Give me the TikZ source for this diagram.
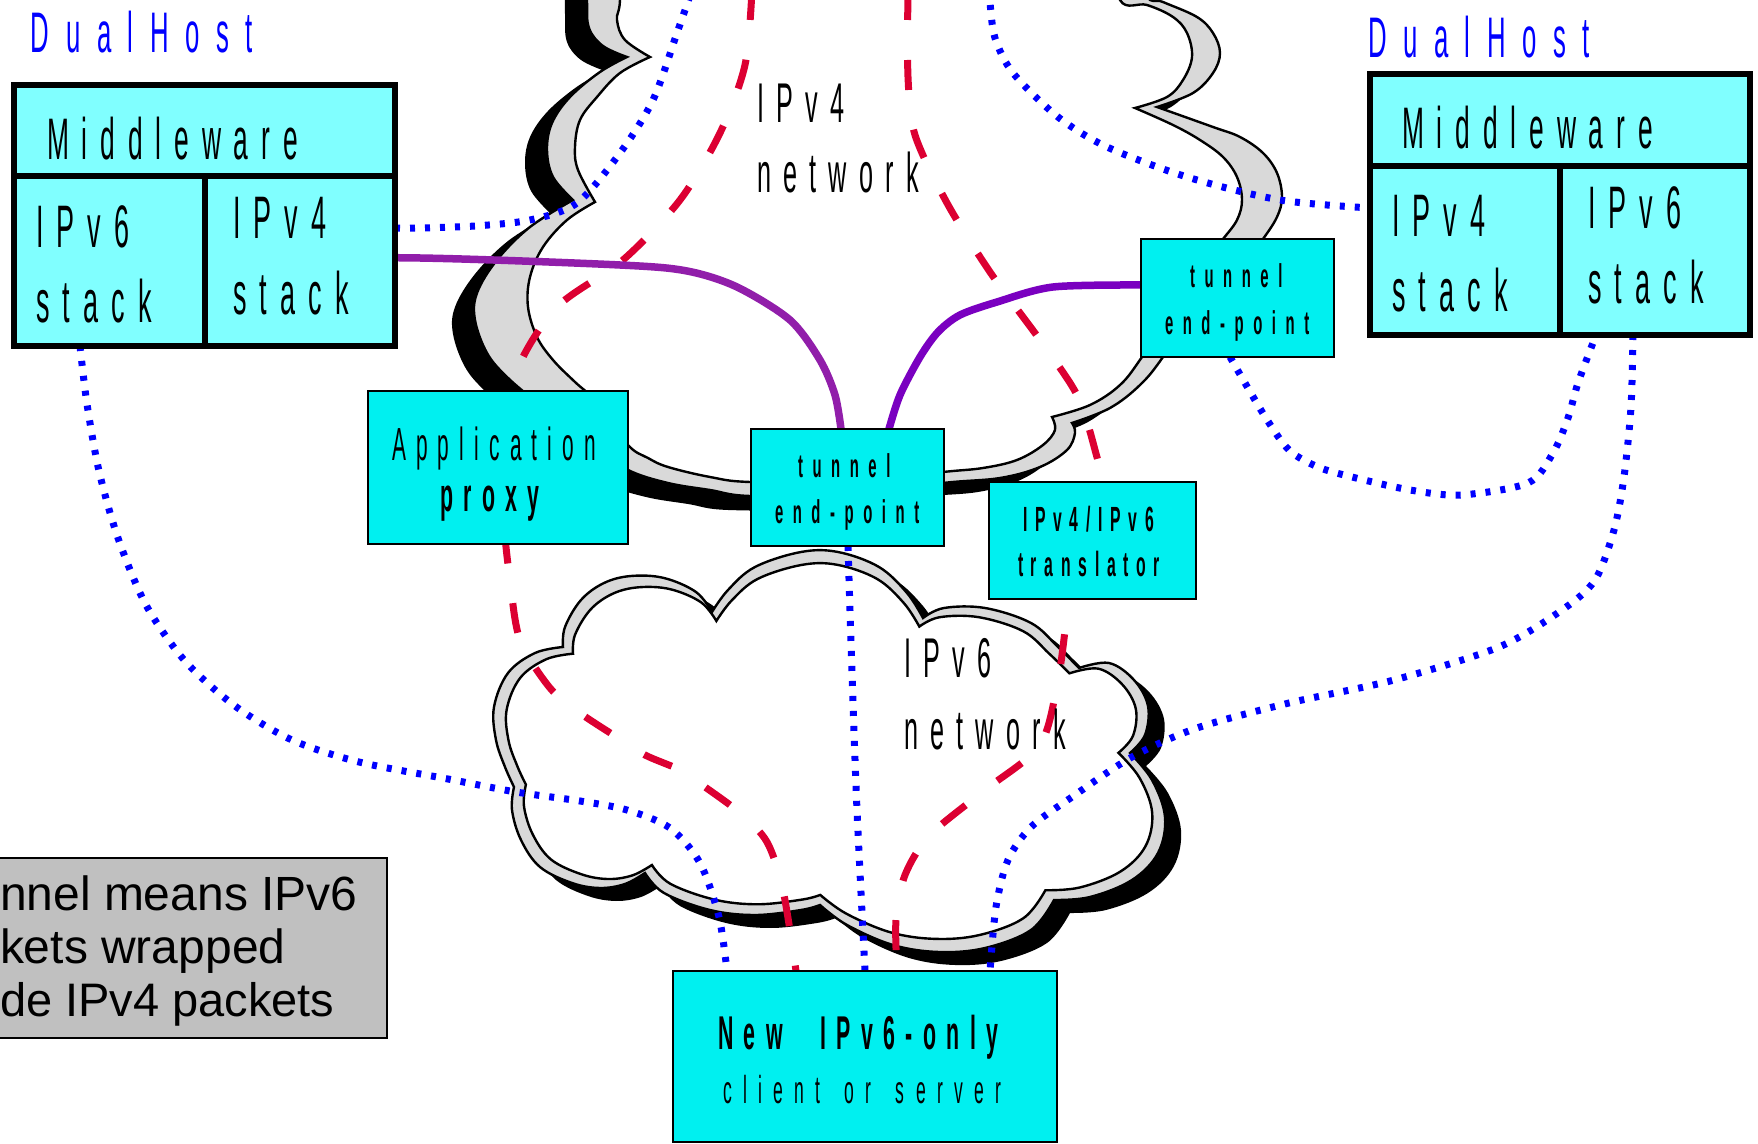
\documentclass[tikz,border=0pt]{standalone}
\usepackage{fontspec}
\setmainfont{Liberation Sans}
\newfontfamily\nf{Liberation Sans}[FakeStretch=0.45,LetterSpace=22,WordSpace=2.3]
\newfontfamily\nfw{Liberation Sans}[FakeStretch=0.45,LetterSpace=29,WordSpace=1.5]
\usetikzlibrary{calc}
\pgfdeclarelayer{cloudl}
\pgfdeclarelayer{linel}
\pgfsetlayers{cloudl,linel,main}
\definecolor{boxc}{RGB}{0,240,240}
\definecolor{dhc}{RGB}{128,255,255}
\definecolor{cgray}{RGB}{217,217,217}
\definecolor{lgray}{RGB}{192,192,192}
\definecolor{rd}{RGB}{220,0,50}
\definecolor{bl}{RGB}{0,0,255}
\definecolor{puA}{RGB}{145,30,170}
\definecolor{puB}{RGB}{122,0,192}
\newcommand\fsz[1]{\fontsize{#1}{#1}\selectfont}
\newcommand\cloudFourOut[1]{%
\path[#1] plot[smooth,tension=0.6] coordinates {(587,-60) (587,0) (589,28) (603,46) (627,57)}
 -- plot[smooth,tension=0.6] coordinates {(627,57) (600,72) (570,97) (552,123) (547,150) (553,177) (573,200)}
 -- plot[smooth,tension=0.6] coordinates {(573,200) (530,227) (497,260) (477,293) (475,320) (487,353) (507,377) (540,405) (590,445) (628,470) (668,483) (710,490) (750,496) (850,495) (943,483) (1000,478) (1040,467) (1067,450) (1075,433) (1072,423)}
 -- plot[smooth,tension=0.6] coordinates {(1072,423) (1110,408) (1140,385) (1163,357) (1200,300) (1250,255) (1263,239) (1277,217) (1282,197) (1277,173) (1263,153) (1240,137) (1213,127) (1157,107)}
 -- plot[smooth,tension=0.6] coordinates {(1157,107) (1193,93) (1213,73) (1220,53) (1213,33) (1197,17) (1163,2) (1147,-5) (1140,-60)}
 -- cycle;}
\newcommand\cloudFourIn[1]{%
\path[#1] plot[smooth,tension=0.6] coordinates {(620,-60) (620,0) (617,20) (625,40) (650,57)}
 -- plot[smooth,tension=0.6] coordinates {(650,57) (620,73) (597,97) (580,120) (575,147) (578,170) (595,202)}
 -- plot[smooth,tension=0.6] coordinates {(595,202) (567,220) (543,247) (530,277) (528,307) (537,337) (553,360) (575,382) (600,405) (628,445) (648,458) (668,467) (710,477) (750,482) (850,482) (943,472) (983,468) (1017,460) (1043,445) (1055,430) (1052,417)}
 -- plot[smooth,tension=0.6] coordinates {(1052,417) (1090,405) (1120,385) (1142,357) (1180,300) (1210,255) (1223,239) (1237,220) (1242,200) (1237,177) (1223,157) (1200,140) (1173,125) (1135,108)}
 -- plot[smooth,tension=0.6] coordinates {(1135,108) (1167,97) (1183,80) (1192,57) (1187,33) (1173,17) (1147,5) (1120,0) (1110,-60)}
 -- cycle;}
\newcommand\cloudSix[1]{%
\path[#1] plot[smooth,tension=0.6] coordinates {(712,612) (696,592) (664,578) (631,576) (604,583) (581,600) (565,627) (563,647)}
 -- plot[smooth,tension=0.6] coordinates {(563,647) (535,653) (508,673) (494,707) (496,740) (505,767) (514,787)}
 -- plot[smooth,tension=0.6] coordinates {(514,787) (512,810) (521,840) (540,867) (572,883) (600,888) (625,884) (645,873)}
 -- plot[smooth,tension=0.6] coordinates {(645,873) (664,893) (710,910) (755,915) (801,910) (820,905)}
 -- plot[smooth,tension=0.6] coordinates {(820,905) (847,925) (893,945) (939,952) (985,948) (1031,930) (1054,900)}
 -- plot[smooth,tension=0.6] coordinates {(1054,900) (1090,897) (1132,880) (1158,853) (1165,817) (1152,780) (1130,753)}
 -- plot[smooth,tension=0.6] coordinates {(1130,753) (1145,735) (1148,706) (1134,680) (1109,663) (1079,668)}
 -- plot[smooth,tension=0.6] coordinates {(1079,668) (1058,647) (1031,623) (985,608) (944,608) (923,618)}
 -- plot[smooth,tension=0.6] coordinates {(923,618) (907,593) (879,567) (838,552) (801,552) (755,567) (728,590) (712,612)}
 -- cycle;}
\begin{document}
\begin{tikzpicture}[x=0.5pt,y=-0.5pt,
  box/.style={draw=black,line width=1pt,fill=boxc,inner sep=0,outer sep=0},
  dhcell/.style={draw=black,line width=3pt,fill=dhc,inner sep=0,outer sep=0},
  lbl/.style={inner sep=0,outer sep=0,anchor=base west},
  tx/.style={lbl,font=\nf\fsz{#1}},
  txb/.style={lbl,font=\nf\bfseries\fsz{#1}},
  txw/.style={lbl,font=\nfw\fsz{#1}},
  txwb/.style={lbl,font=\nfw\bfseries\fsz{#1}},
  rdash/.style={draw=rd,line width=3.5pt,dash pattern=on 15pt off 20pt},
  bdot/.style={draw=bl,line width=3.5pt,dash pattern=on 2.5pt off 5pt},
  pline/.style={line width=3.75pt,line join=round}]
\useasboundingbox (0,0) rectangle (1758,1144);
% ---------- boxes ----------
\node[dhcell,minimum width=190.5pt,minimum height=45.5pt] (mwL) at (204.5,130.5) {};
\node[dhcell,minimum width=95.5pt,minimum height=85pt] (v6L) at (109.5,261) {};
\node[dhcell,minimum width=95pt,minimum height=85pt] (v4L) at (300,261) {};
\node[dhcell,minimum width=190pt,minimum height=46.25pt] (mwR) at (1560,120.25) {};
\node[dhcell,minimum width=95pt,minimum height=84.25pt] (v4R) at (1465,250.75) {};
\node[dhcell,minimum width=95pt,minimum height=84.25pt] (v6R) at (1655,250.75) {};
\node[box,minimum width=130pt,minimum height=76.5pt] (app) at (498,467.5) {};
\node[box,minimum width=96.5pt,minimum height=58.5pt] (tunC) at (847.5,487.5) {};
\node[box,minimum width=96.5pt,minimum height=59pt] (tunR) at (1237.5,298) {};
\node[box,minimum width=103.5pt,minimum height=58.5pt] (trB) at (1092.5,540.5) {};
\node[box,minimum width=192pt,minimum height=85.5pt] (newB) at (865,1056.5) {};
\node[draw=black,line width=0.75pt,fill=lgray,inner sep=0,outer sep=0,minimum width=196pt,minimum height=90pt] (legend) at (191,948) {};
% ---------- texts ----------
\node[txw=28.6,text=bl] (tDhL) at (31,53) {DualHost};
\node[txw=28.6,text=bl] (tDhR) at (1368,58) {DualHost};
\node[tx=29.3] (tMwL) at (47,160) {Middleware};
\node[tx=30] (tV6La) at (36,248) {IPv6};
\node[tx=30] (tV6Lb) at (36,323) {stack};
\node[tx=30] (tV4La) at (233,239) {IPv4};
\node[tx=30] (tV4Lb) at (233,315) {stack};
\node[tx=29.3] (tMwR) at (1402,149) {Middleware};
\node[tx=30] (tV4Ra) at (1392,237) {IPv4};
\node[tx=30] (tV4Rb) at (1392,312) {stack};
\node[tx=30] (tV6Ra) at (1588,229) {IPv6};
\node[tx=30] (tV6Rb) at (1588,304) {stack};
\node[tx=28] (tNetFa) at (757,123) {IPv4};
\node[tx=28] (tNetFb) at (757,193) {network};
\node[tx=28] (tNetSa) at (904,678) {IPv6};
\node[tx=28] (tNetSb) at (904,749) {network};
\node[tx=23.2] (tAppa) at (392,461) {Application};
\node[txb=23.7] (tAppb) at (440,512) {proxy};
\node[txwb=16.5] (tTunCa) at (798,478) {tunnel};
\node[txwb=16.5] (tTunCb) at (775,524) {end-point};
\node[txwb=16.5] (tTunRa) at (1190,288) {tunnel};
\node[txwb=16.5] (tTunRb) at (1165,335) {end-point};
\node[txb=17.5] (tTra) at (1023,532) {IPv4/IPv6};
\node[txb=17.5] (tTrb) at (1018,577) {translator};
\node[txb=23.7] (tNewa) at (718,1049) {New IPv6-only};
\node[txw=19.5] (tNewb) at (723,1103) {client or server};
\node[lbl,font=\fsz{24}] (tLga) at (0,910) {nnel means IPv6};
\node[lbl,font=\fsz{24}] (tLgb) at (0,963) {kets wrapped};
\node[lbl,font=\fsz{23.5}] (tLgc) at (0,1016) {de IPv4 packets};
% free ends at the top edge
\coordinate (topA) at (752,-10);
\coordinate (topB) at (908,-10);
\coordinate (topC) at (692,-10);
\coordinate (topD) at (989,-10);
% ---------- clouds ----------
\begin{pgfonlayer}{cloudl}
\clip (0,0) rectangle (1758,1144);
\fill[white] (0,0) rectangle (1758,1144);
\cloudFourOut{fill=black,shift={(-22,14)}}
\cloudFourOut{fill=cgray,draw=black,line width=1.2pt}
\cloudFourIn{fill=white,draw=black,line width=1.2pt}
\cloudSix{fill=black,shift={(16,13)}}
\cloudSix{fill=cgray,draw=black,line width=1.2pt}
\cloudSix{fill=white,draw=black,line width=1.2pt,shift={(827,750)},xscale=0.962,yscale=0.935,shift={(-827,-750)}}
\end{pgfonlayer}
% ---------- connectors ----------
\begin{pgfonlayer}{linel}
\clip (0,0) rectangle (1758,1144);
\draw[bdot] plot[smooth] coordinates {([yshift=16.5pt]v4L.east) (420,228) (475,226) (530,220) (577,203) (620,153) (653,100) (677,33) (topC)};
\draw[bdot] plot[smooth] coordinates {(topD) (990,3) (995,38) (1013,73) (1058,117) (1107,147) (1187,177) (1280,200) ([yshift=21.4pt]v4R.west)};
\draw[bdot] plot[smooth] coordinates {([xshift=-14.75pt]v6L.south) (87,404) (99,471) (118,538) (146,605) (185,661) (235,706) (292,740) (359,762) (448,779) (516,792) (580,801) (627,810) (670,828) (700,863) (719,917) ([xshift=-69pt]newB.north)};
\draw[bdot] plot[smooth] coordinates {([xshift=0.25pt]tunC.south) (852,673) (857,810) (newB.north)};
\draw[bdot] plot[smooth] coordinates {([xshift=-11pt]v6R.south) (1631,407) (1624,477) (1614,530) (1595,580) (1562,610) (1499,647) (1394,680) (1289,703) (1197,728) (1132,757) (1072,797) (1031,827) (1008,860) (996,907) ([xshift=62.5pt]newB.north)};
\draw[bdot] plot[smooth] coordinates {([xshift=-3.75pt]tunR.south) (1264,415) (1289,450) (1318,467) (1352,477) (1410,490) (1461,495) (1528,483) (1553,453) (1568,418) (1578,383) ([xshift=-29.5pt]v6R.south)};
\draw[rdash] plot[smooth] coordinates {(topA) (745,65) (720,133) (680,200) (623,260) (557,307) (517,370) (505,440) (504,520) (510,580) (520,640) (550,688) (580,713) (615,736) (645,755) (680,770) (705,787) (740,813) (767,842) (783,890) ([xshift=-34.5pt]newB.north)};
\draw[rdash] plot[smooth] coordinates {(topB) (908,77) (915,135) (947,203) (990,272) (1040,340) (1077,395) (1095,450) (1100,482) (1085,540) (1070,599) (1066,623) (1058,680) (1040,745) (985,790) (930,835) (905,875) (896,920) ([xshift=16pt]newB.north)};
\draw[pline,draw=puA] plot[smooth] coordinates {([xshift=4pt,yshift=1.5pt]v4L.west) (420,258) (620,265) (687,271) (737,287) (790,320) (820,360) (835,395) ([xshift=-3.25pt]tunC.north)};
\draw[pline,draw=puB] plot[smooth] coordinates {([yshift=6.5pt]tunR.west) (1053,287) (997,302) (960,315) (938,332) (920,357) (900,395) ([xshift=20.75pt]tunC.north)};
\end{pgfonlayer}
\end{tikzpicture}
\end{document}
